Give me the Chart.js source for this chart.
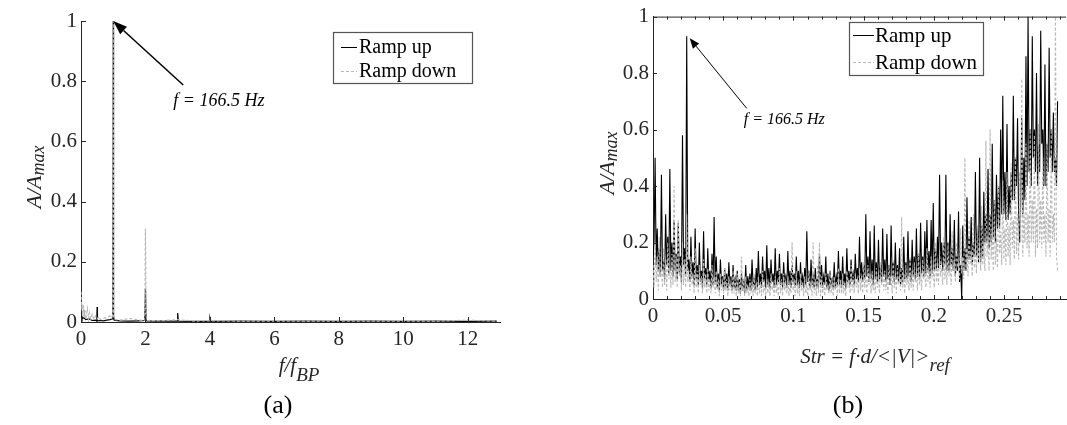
<!DOCTYPE html>
<html>
<head>
<meta charset="utf-8">
<script src="https://cdn.jsdelivr.net/npm/chart.js@4.4.1/dist/chart.umd.min.js"></script>
<style>
  html, body { margin: 0; padding: 0; background: #fff; }
  #wrap { position: relative; width: 1067px; height: 425px; }
  .pane { position: absolute; top: 0; height: 425px; }
</style>
</head>
<body>
<div id="wrap">
  <div class="pane" style="left:0;width:533px"><canvas id="chartA"></canvas></div>
  <div class="pane" style="left:533px;width:534px"><canvas id="chartB"></canvas></div>
</div>
<script>
// (a) amplitude vs f/f_BP
const bpUpFreq = [0, 0.03, 0.08, 0.15, 0.25, 0.35, 0.45, 0.49, 0.5, 0.51, 0.6, 0.7, 0.8, 0.9, 0.97, 0.99, 1.0, 1.01, 1.03,
  1.2, 1.5, 1.8, 1.98, 2.0, 2.02, 2.3, 2.6, 2.98, 3.0, 3.02, 3.5, 3.98, 4.0, 4.02, 5, 6, 7, 8, 9, 10, 11, 12, 12.9];
const bpUpAmp = [0.02, 0.01, 0.015, 0.008, 0.01, 0.005, 0.006, 0.003, 0.05, 0.004, 0.005, 0.004, 0.006, 0.008, 0.01, 0.02, 1.0, 0.02, 0.006,
  0.004, 0.003, 0.004, 0.005, 0.11, 0.004, 0.003, 0.003, 0.003, 0.03, 0.003, 0.002, 0.002, 0.012, 0.002, 0.003, 0.002, 0.003, 0.002, 0.003, 0.002, 0.003, 0.002, 0.003];
const bpDownFreq = [0, 0.02, 0.04, 0.06, 0.08, 0.1, 0.12, 0.15, 0.18, 0.2, 0.23, 0.26, 0.3, 0.35, 0.4, 0.45, 0.5, 0.55, 0.6, 0.7, 0.8, 0.9, 0.96, 0.99, 1.0, 1.01, 1.04,
  1.2, 1.5, 1.8, 1.98, 2.0, 2.02, 2.5, 3.0, 3.5, 4, 5, 6, 7, 8, 9, 10, 11, 12, 12.9];
const bpDownAmp = [0.1, 0.05, 0.06, 0.02, 0.055, 0.015, 0.04, 0.01, 0.035, 0.045, 0.01, 0.03, 0.01, 0.025, 0.008, 0.02, 0.01, 0.018, 0.008, 0.012, 0.015, 0.02, 0.015, 0.03, 1.0, 0.02, 0.008,
  0.006, 0.012, 0.006, 0.005, 0.31, 0.005, 0.004, 0.008, 0.003, 0.004, 0.003, 0.003, 0.003, 0.003, 0.003, 0.003, 0.003, 0.006, 0.003];

// (b) amplitude vs Strouhal number, one value per bin of strStep (20 bins per row)
const strStep = 0.00075;
const strUpAmp = [
  0.15, 0.2, 0.5, 0.12, 0.25, 0.1, 0.18, 0.08, 0.44, 0.1, 0.14, 0.07, 0.3, 0.12, 0.22, 0.09, 0.46, 0.1, 0.2, 0.08,
  0.28, 0.1, 0.16, 0.07, 0.27, 0.09, 0.15, 0.06, 0.58, 0.12, 0.18, 0.08, 0.93, 0.1, 0.14, 0.06, 0.22, 0.08, 0.13, 0.05,
  0.25, 0.07, 0.12, 0.05, 0.2, 0.06, 0.1, 0.04, 0.24, 0.07, 0.11, 0.05, 0.18, 0.06, 0.1, 0.04, 0.16, 0.05, 0.29, 0.06,
  0.15, 0.04, 0.09, 0.03, 0.14, 0.05, 0.08, 0.03, 0.11, 0.04, 0.09, 0.03, 0.13, 0.05, 0.08, 0.03, 0.12, 0.04, 0.07, 0.03,
  0.1, 0.03, 0.07, 0.02, 0.09, 0.04, 0.06, 0.02, 0.12, 0.03, 0.08, 0.04, 0.09, 0.03, 0.14, 0.05, 0.07, 0.03, 0.11, 0.04,
  0.17, 0.05, 0.09, 0.04, 0.15, 0.06, 0.1, 0.04, 0.19, 0.05, 0.11, 0.04, 0.14, 0.06, 0.09, 0.04, 0.18, 0.05, 0.1, 0.06,
  0.16, 0.05, 0.09, 0.04, 0.13, 0.06, 0.08, 0.04, 0.17, 0.05, 0.1, 0.04, 0.12, 0.06, 0.09, 0.04, 0.15, 0.05, 0.1, 0.04,
  0.13, 0.05, 0.08, 0.04, 0.11, 0.05, 0.24, 0.06, 0.1, 0.04, 0.14, 0.05, 0.08, 0.04, 0.11, 0.05, 0.07, 0.04, 0.16, 0.05,
  0.12, 0.04, 0.08, 0.05, 0.15, 0.04, 0.09, 0.03, 0.1, 0.05, 0.07, 0.04, 0.13, 0.04, 0.08, 0.05, 0.17, 0.05, 0.1, 0.04,
  0.15, 0.05, 0.09, 0.04, 0.18, 0.06, 0.1, 0.05, 0.14, 0.06, 0.09, 0.05, 0.16, 0.07, 0.11, 0.06, 0.22, 0.07, 0.13, 0.06,
  0.12, 0.07, 0.3, 0.08, 0.15, 0.06, 0.24, 0.07, 0.14, 0.05, 0.26, 0.07, 0.13, 0.06, 0.21, 0.07, 0.12, 0.06, 0.25, 0.08,
  0.14, 0.06, 0.23, 0.07, 0.12, 0.05, 0.26, 0.08, 0.13, 0.06, 0.2, 0.07, 0.12, 0.06, 0.18, 0.05, 0.11, 0.06, 0.22, 0.07,
  0.13, 0.07, 0.24, 0.08, 0.14, 0.06, 0.21, 0.08, 0.15, 0.07, 0.25, 0.08, 0.16, 0.07, 0.27, 0.09, 0.15, 0.08, 0.24, 0.09,
  0.28, 0.1, 0.17, 0.08, 0.28, 0.09, 0.34, 0.1, 0.18, 0.1, 0.22, 0.11, 0.44, 0.12, 0.2, 0.1, 0.2, 0.12, 0.44, 0.1,
  0.2, 0.1, 0.3, 0.12, 0.18, 0.1, 0.28, 0.08, 0.16, 0.1, 0.31, 0.06, 0.12, 0.0, 0.26, 0.1, 0.18, 0.1, 0.36, 0.14,
  0.22, 0.14, 0.29, 0.12, 0.2, 0.15, 0.45, 0.15, 0.25, 0.13, 0.5, 0.13, 0.26, 0.15, 0.38, 0.2, 0.3, 0.2, 0.46, 0.18,
  0.3, 0.2, 0.55, 0.22, 0.35, 0.2, 0.44, 0.25, 0.4, 0.25, 0.6, 0.3, 0.72, 0.3, 0.45, 0.28, 0.62, 0.28, 0.4, 0.3,
  0.45, 0.35, 0.72, 0.35, 0.5, 0.4, 0.64, 0.3, 0.2, 0.35, 0.64, 0.3, 0.5, 0.35, 0.86, 0.4, 1.0, 0.45, 0.6, 0.4,
  0.93, 0.5, 0.6, 0.45, 0.8, 0.4, 0.55, 0.45, 0.95, 0.55, 0.6, 0.4, 0.83, 0.4, 0.55, 0.45, 0.89, 0.5, 0.6, 0.45,
  0.66, 0.45, 0.5, 0.4, 0.7
];
const strDownAmp = [
  0.12, 0.04, 0.2, 0.06, 0.15, 0.03, 0.22, 0.08, 0.12, 0.04, 0.18, 0.05, 0.14, 0.03, 0.2, 0.07, 0.11, 0.04, 0.16, 0.05,
  0.4, 0.06, 0.15, 0.04, 0.28, 0.08, 0.12, 0.03, 0.2, 0.05, 0.14, 0.04, 0.3, 0.06, 0.1, 0.03, 0.15, 0.05, 0.09, 0.02,
  0.18, 0.04, 0.1, 0.02, 0.12, 0.05, 0.08, 0.02, 0.14, 0.04, 0.09, 0.02, 0.11, 0.03, 0.07, 0.02, 0.12, 0.04, 0.08, 0.02,
  0.1, 0.03, 0.07, 0.01, 0.09, 0.03, 0.06, 0.02, 0.11, 0.03, 0.07, 0.01, 0.08, 0.03, 0.06, 0.02, 0.1, 0.02, 0.07, 0.01,
  0.09, 0.02, 0.06, 0.01, 0.15, 0.03, 0.07, 0.01, 0.08, 0.02, 0.05, 0.01, 0.07, 0.03, 0.06, 0.01, 0.09, 0.02, 0.06, 0.01,
  0.08, 0.02, 0.06, 0.01, 0.1, 0.03, 0.05, 0.01, 0.07, 0.02, 0.06, 0.01, 0.09, 0.03, 0.05, 0.01, 0.08, 0.02, 0.06, 0.01,
  0.11, 0.02, 0.07, 0.01, 0.09, 0.03, 0.06, 0.02, 0.08, 0.01, 0.05, 0.02, 0.2, 0.03, 0.07, 0.01, 0.1, 0.02, 0.06, 0.01,
  0.09, 0.03, 0.06, 0.01, 0.08, 0.02, 0.05, 0.01, 0.1, 0.03, 0.06, 0.01, 0.2, 0.02, 0.07, 0.01, 0.12, 0.02, 0.2, 0.01,
  0.08, 0.02, 0.06, 0.01, 0.09, 0.03, 0.05, 0.02, 0.1, 0.02, 0.07, 0.01, 0.08, 0.03, 0.06, 0.01, 0.11, 0.02, 0.07, 0.02,
  0.09, 0.02, 0.06, 0.01, 0.1, 0.04, 0.07, 0.02, 0.12, 0.03, 0.08, 0.02, 0.09, 0.04, 0.07, 0.02, 0.11, 0.03, 0.08, 0.02,
  0.13, 0.04, 0.08, 0.02, 0.12, 0.05, 0.09, 0.02, 0.1, 0.03, 0.07, 0.02, 0.11, 0.04, 0.08, 0.02, 0.13, 0.05, 0.09, 0.03,
  0.1, 0.03, 0.07, 0.02, 0.12, 0.05, 0.08, 0.02, 0.14, 0.04, 0.09, 0.02, 0.11, 0.05, 0.08, 0.03, 0.29, 0.04, 0.09, 0.02,
  0.12, 0.05, 0.08, 0.03, 0.15, 0.04, 0.1, 0.03, 0.13, 0.06, 0.09, 0.03, 0.16, 0.05, 0.1, 0.03, 0.14, 0.07, 0.1, 0.04,
  0.18, 0.06, 0.11, 0.04, 0.15, 0.08, 0.1, 0.04, 0.2, 0.06, 0.12, 0.05, 0.17, 0.09, 0.11, 0.05, 0.22, 0.07, 0.13, 0.05,
  0.19, 0.08, 0.12, 0.05, 0.24, 0.1, 0.14, 0.06, 0.2, 0.12, 0.13, 0.07, 0.25, 0.09, 0.15, 0.07, 0.5, 0.1, 0.18, 0.08,
  0.28, 0.12, 0.17, 0.08, 0.3, 0.11, 0.18, 0.09, 0.26, 0.14, 0.17, 0.1, 0.33, 0.12, 0.2, 0.1, 0.56, 0.15, 0.22, 0.1,
  0.6, 0.14, 0.25, 0.1, 0.35, 0.12, 0.22, 0.11, 0.4, 0.16, 0.24, 0.12, 0.42, 0.14, 0.25, 0.12, 0.45, 0.15, 0.26, 0.12,
  0.48, 0.18, 0.28, 0.14, 0.5, 0.16, 0.3, 0.14, 0.45, 0.2, 0.78, 0.15, 0.3, 0.2, 0.55, 0.18, 0.3, 0.15, 0.6, 0.2,
  0.35, 0.2, 0.58, 0.15, 0.32, 0.18, 0.62, 0.2, 0.35, 0.18, 0.5, 0.2, 0.3, 0.15, 0.56, 0.2, 0.32, 0.15, 0.6, 0.2,
  0.3, 0.2, 1.0, 0.15, 0.1
];

const seriesNames = ['Ramp up', 'Ramp down'];
const upColor = '#000000';
const downColor = '#b8b8b8';
const axisColor = '#262626';
const serif = '"Liberation Serif", "Times New Roman", serif';

function pairs(xs, ys) { return ys.map((v, i) => ({ x: xs[i], y: v })); }
function binned(ys, step) { return ys.map((v, i) => ({ x: i * step, y: v })); }

function drawRich(ctx, parts, x, y, centered) {
  let w = 0;
  parts.forEach(p => { ctx.font = 'italic ' + p[1] + 'px ' + serif; w += ctx.measureText(p[0]).width; });
  let cx = centered ? x - w / 2 : x;
  parts.forEach(p => {
    ctx.font = 'italic ' + p[1] + 'px ' + serif;
    ctx.fillText(p[0], cx, y + p[2]);
    cx += ctx.measureText(p[0]).width;
  });
}

function drawArrow(ctx, x1, y1, x2, y2, head, half) {
  const a = Math.atan2(y2 - y1, x2 - x1);
  const bx = x2 - head * Math.cos(a), by = y2 - head * Math.sin(a);
  ctx.beginPath(); ctx.moveTo(x1, y1); ctx.lineTo(bx, by); ctx.stroke();
  ctx.beginPath();
  ctx.moveTo(x2, y2);
  ctx.lineTo(bx + half * Math.sin(a), by - half * Math.cos(a));
  ctx.lineTo(bx - half * Math.sin(a), by + half * Math.cos(a));
  ctx.closePath(); ctx.fill();
}

function decoPlugin(cfg) {
  return {
    id: 'deco',
    afterDraw(chart) {
      const { ctx, chartArea: a, scales: { x, y } } = chart;
      ctx.save();
      ctx.strokeStyle = axisColor; ctx.fillStyle = axisColor; ctx.lineWidth = 1;

      // inward tick marks, MATLAB style
      ctx.beginPath();
      x.ticks.forEach(t => {
        const px = Math.round(x.getPixelForValue(t.value)) + 0.5;
        ctx.moveTo(px, a.bottom); ctx.lineTo(px, a.bottom - cfg.tick);
        if (cfg.box) { ctx.moveTo(px, a.top); ctx.lineTo(px, a.top + cfg.tick); }
      });
      y.ticks.forEach(t => {
        const py = Math.round(y.getPixelForValue(t.value)) + 0.5;
        ctx.moveTo(a.left, py); ctx.lineTo(a.left + cfg.tick, py);
      });
      if (cfg.minorX) {
        for (let k = 0; k * cfg.minorX <= x.max; k++) {
          const px = Math.round(x.getPixelForValue(k * cfg.minorX)) + 0.5;
          ctx.moveTo(px, a.bottom); ctx.lineTo(px, a.bottom - 3);
          ctx.moveTo(px, a.top); ctx.lineTo(px, a.top + 3);
        }
      }
      if (cfg.box) { ctx.moveTo(a.left, a.top + 0.5); ctx.lineTo(a.right, a.top + 0.5); }
      ctx.stroke();

      // axis titles with subscripts
      ctx.textAlign = 'left'; ctx.textBaseline = 'alphabetic';
      drawRich(ctx, cfg.xTitle, cfg.xTitlePos[0], cfg.xTitlePos[1], true);
      ctx.save();
      ctx.translate(cfg.yTitlePos[0], cfg.yTitlePos[1]);
      ctx.rotate(-Math.PI / 2);
      drawRich(ctx, cfg.yTitle, 0, 0, true);
      ctx.restore();

      // peak annotation
      const tx = x.getPixelForValue(cfg.peak[0]) + cfg.tipOff[0];
      const ty = y.getPixelForValue(cfg.peak[1]) + cfg.tipOff[1];
      ctx.fillStyle = '#000'; ctx.strokeStyle = '#000'; ctx.lineWidth = cfg.arrowW;
      drawArrow(ctx, tx + cfg.tail[0], ty + cfg.tail[1], tx, ty, cfg.head[0], cfg.head[1]);
      drawRich(ctx, [['f = 166.5 Hz', cfg.noteSize, 0]], tx + cfg.note[0], ty + cfg.note[1], false);

      // legend box
      const L = cfg.legend;
      ctx.fillStyle = '#fff'; ctx.fillRect(L.x, L.y, L.w, L.h);
      ctx.strokeStyle = '#555'; ctx.lineWidth = 1.2; ctx.strokeRect(L.x + 0.5, L.y + 0.5, L.w, L.h);
      ctx.font = L.size + 'px ' + serif; ctx.textBaseline = 'middle';
      chart.data.datasets.forEach((ds, i) => {
        const ry = L.y + L.rows[i];
        ctx.strokeStyle = ds.borderColor; ctx.lineWidth = 1;
        ctx.setLineDash(ds.borderDash || []);
        ctx.beginPath(); ctx.moveTo(L.x + L.s0, ry + 0.5); ctx.lineTo(L.x + L.s1, ry + 0.5); ctx.stroke();
        ctx.setLineDash([]);
        ctx.fillStyle = '#000';
        ctx.fillText(ds.label, L.x + L.tx, ry + 1);
      });

      // panel letter
      ctx.font = '26px ' + serif; ctx.textAlign = 'center'; ctx.textBaseline = 'alphabetic';
      ctx.fillStyle = '#000';
      ctx.fillText(cfg.panel[0], cfg.panel[1], cfg.panel[2]);
      ctx.restore();
    }
  };
}

function makeOptions(xmax, xstep, yw, xh, pad) {
  const tickFont = { family: serif, size: 21 };
  const plain = v => String(+v.toFixed(2));
  return {
    responsive: true, maintainAspectRatio: false, animation: false,
    parsing: false, normalized: true,
    layout: { padding: pad },
    elements: { point: { radius: 0 }, line: { tension: 0 } },
    plugins: { legend: { display: false }, tooltip: { enabled: false } },
    scales: {
      x: {
        type: 'linear', min: 0, max: xmax,
        ticks: { stepSize: xstep, includeBounds: false, font: tickFont, color: axisColor, padding: 5, maxRotation: 0, autoSkip: false, callback: plain },
        grid: { display: false, drawTicks: false },
        border: { color: axisColor, width: 1 },
        afterFit: s => { s.height = xh; }
      },
      y: {
        type: 'linear', min: 0, max: 1,
        ticks: { stepSize: 0.2, font: tickFont, color: axisColor, padding: 4, callback: plain },
        grid: { display: false, drawTicks: false },
        border: { color: axisColor, width: 1 },
        afterFit: s => { s.width = yw; }
      }
    }
  };
}

new Chart(document.getElementById('chartA'), {
  type: 'line',
  data: {
    datasets: [
      { label: seriesNames[0], data: pairs(bpUpFreq, bpUpAmp), borderColor: upColor, borderWidth: 1.2, order: 2 },
      { label: seriesNames[1], data: pairs(bpDownFreq, bpDownAmp), borderColor: downColor, borderWidth: 1.2, borderDash: [3, 2], order: 1 }
    ]
  },
  options: makeOptions(13, 2, 81, 103, { left: 0, right: 33, top: 21, bottom: 0 }),
  plugins: [decoPlugin({
    tick: 5, box: false, minorX: 0,
    xTitle: [['f/f', 21, 0], ['BP', 19, 9]], xTitlePos: [299, 372],
    yTitle: [['A/A', 22, 0], ['max', 18, 3]], yTitlePos: [41, 177],
    peak: [1, 1], tipOff: [0, 0], tail: [70, 64], head: [14, 5], arrowW: 1.5,
    note: [60, 85], noteSize: 18,
    legend: { x: 333, y: 32, w: 139, h: 51, rows: [15, 39], s0: 8, s1: 24, tx: 26, size: 20 },
    panel: ['(a)', 278, 413]
  })]
});

new Chart(document.getElementById('chartB'), {
  type: 'line',
  data: {
    datasets: [
      { label: seriesNames[0], data: binned(strUpAmp, strStep), borderColor: upColor, borderWidth: 1.1, order: 2 },
      { label: seriesNames[1], data: binned(strDownAmp, strStep), borderColor: downColor, borderWidth: 1.1, borderDash: [3, 2], order: 1 }
    ]
  },
  options: makeOptions(0.294, 0.05, 120, 126, { left: 0, right: 1, top: 15, bottom: 0 }),
  plugins: [decoPlugin({
    tick: 4, box: true, minorX: 0.01,
    xTitle: [['Str = f\u00b7d/<|V|>', 21, 0], ['ref', 19, 8]], xTitlePos: [342, 363],
    yTitle: [['A/A', 22, 0], ['max', 18, 3]], yTitlePos: [81, 163],
    peak: [0.024, 0.93], tipOff: [3, 2], tail: [57, 70], head: [10, 4], arrowW: 1,
    note: [54, 86], noteSize: 16,
    legend: { x: 316, y: 22, w: 134, h: 53, rows: [13, 40], s0: 4, s1: 25, tx: 26, size: 21 },
    panel: ['(b)', 315, 413]
  })]
});
</script>
</body>
</html>
